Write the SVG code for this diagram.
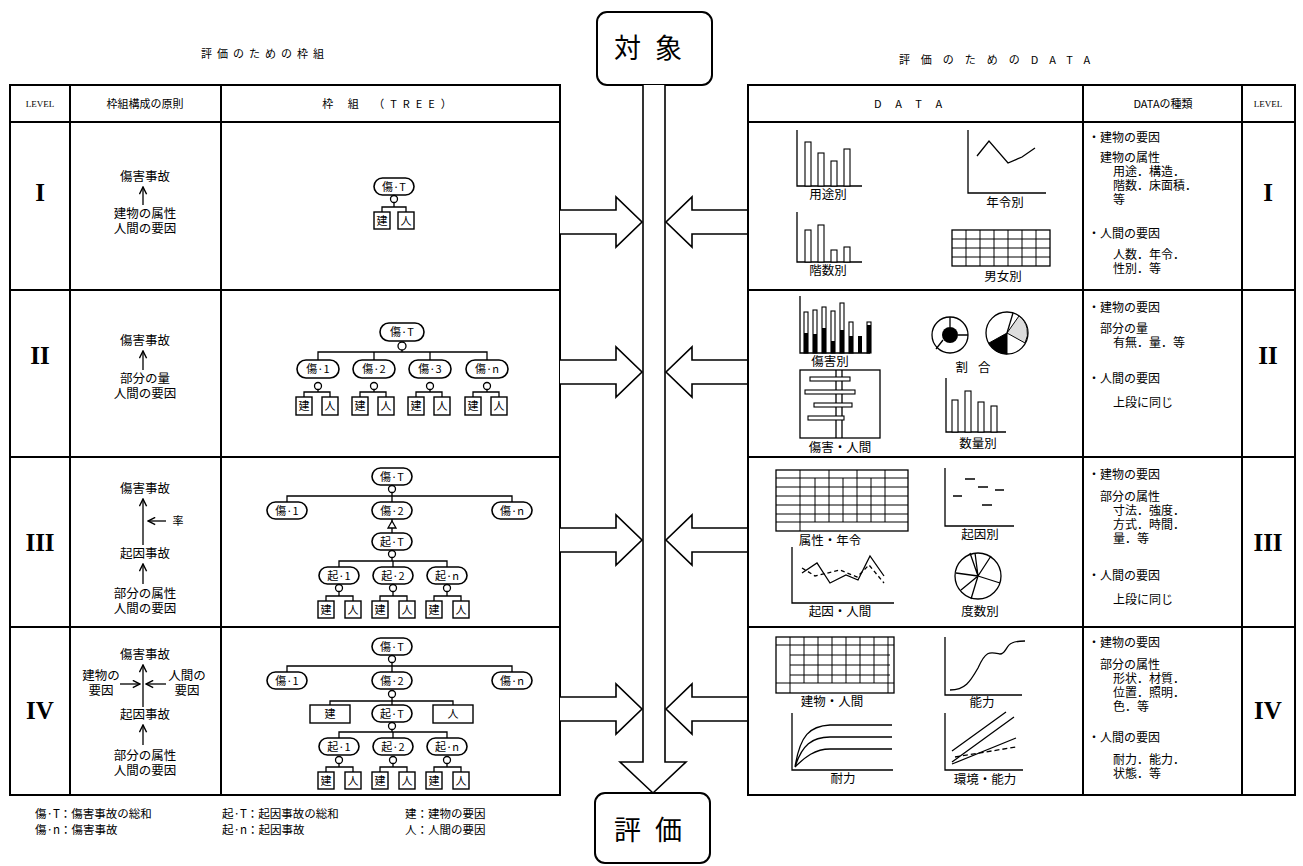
<svg xmlns="http://www.w3.org/2000/svg" width="1303" height="866" viewBox="0 0 1303 866">
<style>
.tb{stroke:#000;fill:none;stroke-width:2}
.ln{stroke:#000;fill:none;stroke-width:1.3}
.th{stroke:#000;fill:none;stroke-width:1}
.cap{stroke:#000;fill:#fff;stroke-width:1.6}
.bx{stroke:#000;fill:#fff;stroke-width:1.4}
.bar{stroke:#000;fill:#fff;stroke-width:1.1}
.ar{stroke:#000;fill:#fff;stroke-width:1.6}
.gc{stroke:#000;fill:#fff;stroke-width:1.3}
text{font-family:"Noto Sans CJK JP","Noto Sans CJK SC",sans-serif;fill:#000}
.t{font-size:12.5px;text-anchor:middle}
.s{font-size:11px;text-anchor:middle}
.n{font-size:11px;text-anchor:middle}
.d{font-size:12px}
.h{font-size:11px;text-anchor:middle}
.lv{font-family:"Liberation Serif",serif;font-size:9px;text-anchor:middle}
.rn{font-family:"Liberation Serif",serif;font-size:25px;font-weight:bold;text-anchor:middle}
.big{font-size:27px;text-anchor:middle}
.lg{font-size:11.5px}
</style>
<defs>
<marker id="ah" viewBox="0 0 10 10" refX="9" refY="5" markerWidth="9" markerHeight="9" markerUnits="userSpaceOnUse" orient="auto"><path d="M1,1 L9,5 L1,9" fill="none" stroke="#000" stroke-width="1.6"/></marker>
</defs>
<rect width="1303" height="866" fill="#fff"/>

<!-- titles -->
<text class="h" x="265" y="58" style="letter-spacing:5px">評価のための枠組</text>
<text class="h" x="1000" y="64" style="letter-spacing:11px">評価のためのDATA</text>

<!-- left table -->
<g id="left-table">
<rect class="tb" x="10" y="85" width="550" height="710"/>
<path class="tb" d="M70,85 V795 M221,85 V795 M10,122 H560 M10,290 H560 M10,457 H560 M10,627 H560"/>
<text class="lv" x="40" y="107">LEVEL</text>
<text class="s" x="145" y="108">枠組構成の原則</text>
<text class="s" x="390" y="108" style="letter-spacing:6px">枠 組 （TREE）</text>
<text class="rn" x="40" y="201">I</text>
<text class="rn" x="40" y="364">II</text>
<text class="rn" x="40" y="551">III</text>
<text class="rn" x="40" y="719">IV</text>
</g>

<!-- principles -->
<g id="principle-1">
<text class="t" x="145" y="181">傷害事故</text>
<line class="ln" x1="143" y1="205" x2="143" y2="187" marker-end="url(#ah)"/>
<text class="t" x="145" y="218">建物の属性</text>
<text class="t" x="145" y="233">人間の要因</text>
</g>
<g id="principle-2">
<text class="t" x="145" y="345">傷害事故</text>
<line class="ln" x1="143" y1="370" x2="143" y2="351" marker-end="url(#ah)"/>
<text class="t" x="145" y="383">部分の量</text>
<text class="t" x="145" y="398">人間の要因</text>
</g>
<g id="principle-3">
<text class="t" x="145" y="493">傷害事故</text>
<line class="ln" x1="143" y1="545" x2="143" y2="499" marker-end="url(#ah)"/>
<line class="ln" x1="166" y1="521" x2="148" y2="521" marker-end="url(#ah)"/>
<text class="t" x="178" y="525" style="font-size:11px">率</text>
<text class="t" x="145" y="558">起因事故</text>
<line class="ln" x1="143" y1="584" x2="143" y2="564" marker-end="url(#ah)"/>
<text class="t" x="145" y="598">部分の属性</text>
<text class="t" x="145" y="613">人間の要因</text>
</g>
<g id="principle-4">
<text class="t" x="145" y="659">傷害事故</text>
<line class="ln" x1="143" y1="707" x2="143" y2="665" marker-end="url(#ah)"/>
<text class="t" x="101" y="680">建物の</text>
<text class="t" x="101" y="695">要因</text>
<line class="ln" x1="120" y1="684" x2="140" y2="684" marker-end="url(#ah)"/>
<line class="ln" x1="166" y1="684" x2="146" y2="684" marker-end="url(#ah)"/>
<text class="t" x="187" y="680">人間の</text>
<text class="t" x="187" y="695">要因</text>
<text class="t" x="145" y="719">起因事故</text>
<line class="ln" x1="143" y1="745" x2="143" y2="725" marker-end="url(#ah)"/>
<text class="t" x="145" y="760">部分の属性</text>
<text class="t" x="145" y="775">人間の要因</text>
</g>

<!-- trees: connectors -->
<g id="tree-connectors" class="ln">
<path d="M394,203 V207 M382,212 V207 H406 V212"/>
<path d="M402,350 V352 M318,360 V352 H487 V360 M374,352 V360 M430,352 V360"/>
<path d="M304,397 V392 H330 V397 M318,390 V392 M360,397 V392 H386 V397 M374,390 V392 M416,397 V392 H442 V397 M430,390 V392 M473,397 V392 H499 V397 M487,390 V392"/>
<path d="M392,493 V496 M287,502 V496 H512 V502 M392,496 V502"/>
<path d="M392,519 V533"/>
<path d="M392,558 V561 M339,567 V561 H447 V567 M393,561 V567"/>
<path d="M326,601 V596 H353 V601 M339,592 V596 M380,601 V596 H407 V601 M393,592 V596 M434,601 V596 H461 V601 M447,592 V596"/>
<path d="M392,663 V666 M287,672 V666 H512 V672 M392,666 V672"/>
<path d="M392,698 V701 M330,705 V701 H453 V705 M392,701 V705"/>
<path d="M392,729 V732 M339,738 V732 H447 V738 M393,732 V738"/>
<path d="M326,772 V767 H353 V772 M339,764 V767 M380,772 V767 H407 V772 M393,764 V767 M434,772 V767 H461 V772 M447,764 V767"/>
</g>

<!-- tree I -->
<g id="t1-T"><rect class="cap" x="374" y="178" width="40" height="17" rx="8.5"/><text class="n" x="394" y="191">傷·T</text><circle class="gc" cx="394" cy="199" r="3.5"/></g>
<g id="t1-ken"><rect class="bx" x="374" y="212" width="16" height="17"/><text class="n" x="382" y="225">建</text></g>
<g id="t1-hito"><rect class="bx" x="398" y="212" width="16" height="17"/><text class="n" x="406" y="225">人</text></g>

<!-- tree II -->
<g id="t2-T"><rect class="cap" x="380" y="323" width="44" height="18" rx="9"/><text class="n" x="402" y="336">傷·T</text><circle class="gc" cx="402" cy="346" r="4"/></g>
<g id="t2-1"><rect class="cap" x="297" y="360" width="42" height="18" rx="9"/><text class="n" x="318" y="373">傷·1</text><circle class="gc" cx="318" cy="386" r="3.5"/></g>
<g id="t2-2"><rect class="cap" x="353" y="360" width="42" height="18" rx="9"/><text class="n" x="374" y="373">傷·2</text><circle class="gc" cx="374" cy="386" r="3.5"/></g>
<g id="t2-3"><rect class="cap" x="409" y="360" width="42" height="18" rx="9"/><text class="n" x="430" y="373">傷·3</text><circle class="gc" cx="430" cy="386" r="3.5"/></g>
<g id="t2-n"><rect class="cap" x="466" y="360" width="42" height="18" rx="9"/><text class="n" x="487" y="373">傷·n</text><circle class="gc" cx="487" cy="386" r="3.5"/></g>
<g id="t2-b1"><rect class="bx" x="296" y="397" width="16" height="18"/><text class="n" x="304" y="410">建</text><rect class="bx" x="322" y="397" width="16" height="18"/><text class="n" x="330" y="410">人</text></g>
<g id="t2-b2"><rect class="bx" x="352" y="397" width="16" height="18"/><text class="n" x="360" y="410">建</text><rect class="bx" x="378" y="397" width="16" height="18"/><text class="n" x="386" y="410">人</text></g>
<g id="t2-b3"><rect class="bx" x="408" y="397" width="16" height="18"/><text class="n" x="416" y="410">建</text><rect class="bx" x="434" y="397" width="16" height="18"/><text class="n" x="442" y="410">人</text></g>
<g id="t2-b4"><rect class="bx" x="465" y="397" width="16" height="18"/><text class="n" x="473" y="410">建</text><rect class="bx" x="491" y="397" width="16" height="18"/><text class="n" x="499" y="410">人</text></g>

<!-- tree III -->
<g id="t3-T"><rect class="cap" x="372" y="468" width="40" height="17" rx="8.5"/><text class="n" x="392" y="481">傷·T</text><circle class="gc" cx="392" cy="489" r="3.5"/></g>
<g id="t3-1"><rect class="cap" x="267" y="502" width="40" height="17" rx="8.5"/><text class="n" x="287" y="515">傷·1</text></g>
<g id="t3-2"><rect class="cap" x="372" y="502" width="40" height="17" rx="8.5"/><text class="n" x="392" y="515">傷·2</text><path class="gc" d="M392,521 L396,528 H388 Z"/></g>
<g id="t3-n"><rect class="cap" x="492" y="502" width="40" height="17" rx="8.5"/><text class="n" x="512" y="515">傷·n</text></g>
<g id="t3-kT"><rect class="cap" x="372" y="533" width="40" height="17" rx="8.5"/><text class="n" x="392" y="546">起·T</text><circle class="gc" cx="392" cy="554" r="3.5"/></g>
<g id="t3-k1"><rect class="cap" x="319" y="567" width="40" height="17" rx="8.5"/><text class="n" x="339" y="580">起·1</text><circle class="gc" cx="339" cy="588" r="3.5"/></g>
<g id="t3-k2"><rect class="cap" x="373" y="567" width="40" height="17" rx="8.5"/><text class="n" x="393" y="580">起·2</text><circle class="gc" cx="393" cy="588" r="3.5"/></g>
<g id="t3-kn"><rect class="cap" x="427" y="567" width="40" height="17" rx="8.5"/><text class="n" x="447" y="580">起·n</text><circle class="gc" cx="447" cy="588" r="3.5"/></g>
<g id="t3-b1"><rect class="bx" x="318" y="601" width="16" height="17"/><text class="n" x="326" y="614">建</text><rect class="bx" x="345" y="601" width="16" height="17"/><text class="n" x="353" y="614">人</text></g>
<g id="t3-b2"><rect class="bx" x="372" y="601" width="16" height="17"/><text class="n" x="380" y="614">建</text><rect class="bx" x="399" y="601" width="16" height="17"/><text class="n" x="407" y="614">人</text></g>
<g id="t3-b3"><rect class="bx" x="426" y="601" width="16" height="17"/><text class="n" x="434" y="614">建</text><rect class="bx" x="453" y="601" width="16" height="17"/><text class="n" x="461" y="614">人</text></g>

<!-- tree IV -->
<g id="t4-T"><rect class="cap" x="372" y="638" width="40" height="17" rx="8.5"/><text class="n" x="392" y="651">傷·T</text><circle class="gc" cx="392" cy="659" r="3.5"/></g>
<g id="t4-1"><rect class="cap" x="267" y="672" width="40" height="17" rx="8.5"/><text class="n" x="287" y="685">傷·1</text></g>
<g id="t4-2"><rect class="cap" x="372" y="672" width="40" height="17" rx="8.5"/><text class="n" x="392" y="685">傷·2</text><circle class="gc" cx="392" cy="694" r="3.5"/></g>
<g id="t4-n"><rect class="cap" x="492" y="672" width="40" height="17" rx="8.5"/><text class="n" x="512" y="685">傷·n</text></g>
<g id="t4-ken"><rect class="bx" x="310" y="705" width="40" height="18"/><text class="n" x="330" y="718">建</text></g>
<g id="t4-kT"><rect class="cap" x="372" y="705" width="40" height="17" rx="8.5"/><text class="n" x="392" y="718">起·T</text><circle class="gc" cx="392" cy="726" r="3.5"/></g>
<g id="t4-hito"><rect class="bx" x="433" y="705" width="40" height="18"/><text class="n" x="453" y="718">人</text></g>
<g id="t4-k1"><rect class="cap" x="319" y="738" width="40" height="17" rx="8.5"/><text class="n" x="339" y="751">起·1</text><circle class="gc" cx="339" cy="760" r="3.5"/></g>
<g id="t4-k2"><rect class="cap" x="373" y="738" width="40" height="17" rx="8.5"/><text class="n" x="393" y="751">起·2</text><circle class="gc" cx="393" cy="760" r="3.5"/></g>
<g id="t4-kn"><rect class="cap" x="427" y="738" width="40" height="17" rx="8.5"/><text class="n" x="447" y="751">起·n</text><circle class="gc" cx="447" cy="760" r="3.5"/></g>
<g id="t4-b1"><rect class="bx" x="318" y="772" width="16" height="17"/><text class="n" x="326" y="785">建</text><rect class="bx" x="345" y="772" width="16" height="17"/><text class="n" x="353" y="785">人</text></g>
<g id="t4-b2"><rect class="bx" x="372" y="772" width="16" height="17"/><text class="n" x="380" y="785">建</text><rect class="bx" x="399" y="772" width="16" height="17"/><text class="n" x="407" y="785">人</text></g>
<g id="t4-b3"><rect class="bx" x="426" y="772" width="16" height="17"/><text class="n" x="434" y="785">建</text><rect class="bx" x="453" y="772" width="16" height="17"/><text class="n" x="461" y="785">人</text></g>

<!-- central -->
<g id="taisho"><rect class="tb" x="597" y="12" width="115" height="73" rx="10" fill="#fff"/><text class="big" x="655" y="58" style="letter-spacing:14px">対象</text></g>
<g id="hyoka"><rect class="tb" x="595" y="793" width="115" height="70" rx="10" fill="#fff"/><text class="big" x="655" y="840" style="letter-spacing:14px">評価</text></g>

<g id="connectors">
<path class="ar" d="M643,85 V762 H620 L653,793 L686,762 H665 V85"/>
<path class="ar" d="M560,210 H616 V197 L642,222 L616,247 V234 H560"/>
<path class="ar" d="M748,210 H692 V197 L666,222 L692,247 V234 H748"/>
<path class="ar" d="M560,360 H616 V347 L642,372 L616,397 V384 H560"/>
<path class="ar" d="M748,360 H692 V347 L666,372 L692,397 V384 H748"/>
<path class="ar" d="M560,528 H616 V515 L642,540 L616,565 V552 H560"/>
<path class="ar" d="M748,528 H692 V515 L666,540 L692,565 V552 H748"/>
<path class="ar" d="M560,697 H616 V684 L642,709 L616,734 V721 H560"/>
<path class="ar" d="M748,697 H692 V684 L666,709 L692,734 V721 H748"/>
</g>

<!-- right table -->
<g id="right-table">
<rect class="tb" x="748" y="85" width="547" height="710"/>
<path class="tb" d="M1083,85 V795 M1242,85 V795 M748,122 H1295 M748,290 H1295 M748,457 H1295 M748,627 H1295"/>
<text class="s" x="915" y="108" style="letter-spacing:14px">DATA</text>
<text class="s" x="1163" y="108">DATAの種類</text>
<text class="lv" x="1268" y="107">LEVEL</text>
<text class="rn" x="1268" y="201">I</text>
<text class="rn" x="1268" y="364">II</text>
<text class="rn" x="1268" y="551">III</text>
<text class="rn" x="1268" y="719">IV</text>
</g>

<!-- data types -->
<g id="types-1">
<text class="d" x="1088" y="142">・建物の要因</text>
<text class="d" x="1100" y="162">建物の属性</text>
<text class="d" x="1113" y="176">用途．構造．</text>
<text class="d" x="1113" y="190">階数．床面積．</text>
<text class="d" x="1113" y="204">等</text>
<text class="d" x="1088" y="238">・人間の要因</text>
<text class="d" x="1113" y="259">人数．年令．</text>
<text class="d" x="1113" y="273">性別．等</text>
</g>
<g id="types-2">
<text class="d" x="1088" y="312">・建物の要因</text>
<text class="d" x="1100" y="333">部分の量</text>
<text class="d" x="1113" y="347">有無．量．等</text>
<text class="d" x="1088" y="383">・人間の要因</text>
<text class="d" x="1113" y="407">上段に同じ</text>
</g>
<g id="types-3">
<text class="d" x="1088" y="479">・建物の要因</text>
<text class="d" x="1100" y="501">部分の属性</text>
<text class="d" x="1113" y="515">寸法．強度．</text>
<text class="d" x="1113" y="529">方式．時間．</text>
<text class="d" x="1113" y="543">量．等</text>
<text class="d" x="1088" y="580">・人間の要因</text>
<text class="d" x="1113" y="604">上段に同じ</text>
</g>
<g id="types-4">
<text class="d" x="1088" y="647">・建物の要因</text>
<text class="d" x="1100" y="669">部分の属性</text>
<text class="d" x="1113" y="683">形状．材質．</text>
<text class="d" x="1113" y="697">位置．照明．</text>
<text class="d" x="1113" y="711">色．等</text>
<text class="d" x="1088" y="742">・人間の要因</text>
<text class="d" x="1113" y="764">耐力．能力．</text>
<text class="d" x="1113" y="778">状態．等</text>
</g>

<!-- charts row I -->
<g id="c-yoto">
<path class="ln" d="M797,130 V186 H862"/>
<rect class="bar" x="805" y="142" width="6" height="44"/>
<rect class="bar" x="818" y="153" width="6" height="33"/>
<rect class="bar" x="831" y="161" width="6" height="25"/>
<rect class="bar" x="844" y="149" width="6" height="37"/>
<text class="t" x="828" y="199">用途別</text>
</g>
<g id="c-nenrei">
<path class="ln" d="M968,130 V193 H1046"/>
<path class="ln" d="M977,156 L989,141 L1008,163 L1022,157 L1035,148"/>
<text class="t" x="1005" y="207">年令別</text>
</g>
<g id="c-kaisu">
<path class="ln" d="M797,212 V262 H862"/>
<rect class="bar" x="805" y="230" width="6" height="32"/>
<rect class="bar" x="818" y="225" width="6" height="37"/>
<rect class="bar" x="831" y="250" width="6" height="12"/>
<rect class="bar" x="844" y="247" width="6" height="15"/>
<text class="t" x="828" y="275">階数別</text>
</g>
<g id="c-danjo">
<rect class="ln" x="952" y="230" width="98" height="36" stroke-width="1.6"/>
<path class="th" d="M952,239 H1050 M952,248 H1050 M952,257 H1050 M966,230 V266 M980,230 V266 M994,230 V266 M1008,230 V266 M1022,230 V266 M1036,230 V266"/>
<text class="t" x="1003" y="281">男女別</text>
</g>

<!-- charts row II -->
<g id="c-shogai">
<path class="ln" d="M800,296 V353 H870"/>
<rect class="bar" x="804" y="312" width="4" height="41"/><rect x="804" y="333" width="4" height="20"/>
<rect class="bar" x="813" y="310" width="4" height="43"/><rect x="813" y="334" width="4" height="19"/>
<rect class="bar" x="822" y="307" width="4" height="46"/><rect x="822" y="328" width="4" height="25"/>
<rect class="bar" x="831" y="311" width="4" height="42"/><rect x="831" y="341" width="4" height="12"/>
<rect class="bar" x="840" y="303" width="4" height="50"/><rect x="840" y="330" width="4" height="23"/>
<rect class="bar" x="849" y="322" width="4" height="31"/><rect x="849" y="336" width="4" height="17"/>
<rect x="858" y="336" width="4" height="17"/>
<rect class="bar" x="867" y="322" width="4" height="31"/><rect x="867" y="325" width="4" height="28"/>
<text class="t" x="830" y="366">傷害別</text>
</g>
<g id="c-wariai">
<circle class="ln" cx="950" cy="335" r="18" stroke-width="1.5"/>
<circle cx="950" cy="335" r="8"/>
<path class="ln" d="M950,317 V327 M958,335 H968 M943,340 L936,349"/>
<circle class="ln" cx="1007" cy="333" r="21" stroke-width="1.5"/>
<path d="M1007,333 L1019,316 A21,21 0 0 1 1025,343 Z" fill="#ddd" stroke="#000" stroke-width="1"/>
<path d="M1007,333 L1007,354 A21,21 0 0 1 989,343 Z" fill="#000" stroke="#000"/>
<path class="ln" d="M1007,333 L1013,313"/>
<text class="t" x="978" y="372" style="letter-spacing:10px">割合</text>
</g>
<g id="c-shogai-ningen">
<rect class="ln" x="800" y="370" width="80" height="68" stroke-width="1.5"/>
<path class="ln" d="M836,370 V438 M842,370 V438"/>
<rect class="bar" x="810" y="377" width="40" height="4"/>
<rect class="bar" x="805" y="390" width="50" height="4"/>
<rect class="bar" x="814" y="403" width="38" height="4"/>
<rect class="bar" x="808" y="416" width="36" height="4"/>
<text class="t" x="840" y="452">傷害・人間</text>
</g>
<g id="c-suryo">
<path class="ln" d="M946,378 V432 H1006"/>
<rect class="bar" x="952" y="400" width="6" height="32"/>
<rect class="bar" x="965" y="391" width="6" height="41"/>
<rect class="bar" x="978" y="402" width="6" height="30"/>
<rect class="bar" x="991" y="406" width="6" height="26"/>
<text class="t" x="978" y="448">数量別</text>
</g>

<!-- charts row III -->
<g id="c-zokusei">
<rect class="ln" x="776" y="470" width="132" height="61" stroke-width="1.6"/>
<path class="th" d="M776,478 H908 M776,487 H908 M776,496 H908 M776,505 H908 M776,514 H908 M776,522 H908 M800,470 V531 M815,478 V522 M829,470 V522 M843,478 V522 M857,470 V522 M871,478 V522 M885,470 V522"/>
<text class="t" x="830" y="545">属性・年令</text>
</g>
<g id="c-kiin">
<path class="ln" d="M945,468 V526 H1014"/>
<path class="ln" stroke-width="1.6" d="M953,496 H962 M965,479 H975 M978,487 H988 M995,490 H1004 M982,505 H992"/>
<text class="t" x="980" y="539">起因別</text>
</g>
<g id="c-kiin-ningen">
<path class="ln" d="M792,547 V603 H894"/>
<path class="ln" d="M802,573 L817,563 L830,583 L846,575 L858,580 L870,556 L884,576"/>
<path class="ln" stroke-dasharray="4,3" d="M802,568 L815,576 L840,570 L857,577 L869,565 L884,583"/>
<text class="t" x="840" y="616">起因・人間</text>
</g>
<g id="c-dosu">
<circle class="ln" cx="978" cy="576" r="23" stroke-width="1.5"/>
<path class="ln" d="M978,576 L970,553 M978,576 L975,553 M978,576 L991,556 M978,576 L1000,583 M978,576 L961,590 M978,576 L971,599 M978,576 L956,573"/>
<text class="t" x="980" y="616">度数別</text>
</g>

<!-- charts row IV -->
<g id="c-tatemono-ningen">
<rect class="ln" x="776" y="637" width="118" height="56" stroke-width="1.6"/>
<path class="th" d="M776,645 H894 M790,655 H890 M790,665 H890 M790,675 H890 M776,683 H894 M790,637 V693 M804,637 V683 M818,637 V683 M832,637 V683 M846,637 V683 M860,637 V683 M874,637 V683 M888,637 V693"/>
<text class="t" x="832" y="706">建物・人間</text>
</g>
<g id="c-noryoku">
<path class="ln" d="M945,637 V695 H1022"/>
<path class="ln" d="M950,690 C965,690 970,682 978,668 C986,650 990,652 1000,654 C1006,654 1006,645 1012,643 C1016,641 1020,641 1025,641"/>
<text class="t" x="982" y="707">能力</text>
</g>
<g id="c-tairyoku">
<path class="ln" d="M792,713 V770 H893"/>
<path class="ln" d="M795,767 C800,735 810,726 830,725 H892 M795,767 C802,745 812,737 830,737 H892 M795,767 C805,757 815,749 830,749 H892"/>
<text class="t" x="843" y="783">耐力</text>
</g>
<g id="c-kankyo">
<path class="ln" d="M945,713 V770 H1023"/>
<path class="ln" d="M952,751 L1006,712 M952,762 L1014,717 M952,764 L1016,738"/>
<path class="ln" stroke-dasharray="5,3" d="M955,757 L1016,747"/>
<text class="t" x="985" y="784">環境・能力</text>
</g>

<!-- legend -->
<g id="legend">
<text class="lg" x="35" y="818">傷·T：傷害事故の総和</text>
<text class="lg" x="35" y="834">傷·n：傷害事故</text>
<text class="lg" x="222" y="818">起·T：起因事故の総和</text>
<text class="lg" x="222" y="834">起·n：起因事故</text>
<text class="lg" x="405" y="818">建：建物の要因</text>
<text class="lg" x="405" y="834">人：人間の要因</text>
</g>
</svg>
